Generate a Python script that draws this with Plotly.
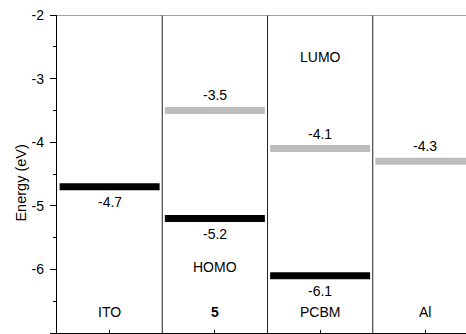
import plotly.graph_objects as go

# Energy levels (eV) for each layer of the device
materials = ["ITO", "5", "PCBM", "Al"]
lumo = [None, -3.5, -4.1, -4.3]   # upper levels / work function (grey)
homo = [-4.7, -5.2, -6.1, None]   # lower levels / work function (black)
y_ticks = [-2, -3, -4, -5, -6, -7]

GREY = "#bdbdbd"
BLACK = "#000000"
FONT = "Liberation Sans, Arial, sans-serif"
GAP = 0.025
TXT = dict(size=14, color="black", family=FONT)

fig = go.Figure()
annotations = []

for i, name in enumerate(materials):
    cx = i + 0.5
    if lumo[i] is not None:
        fig.add_trace(go.Scatter(x=[i + GAP, i + 1 - GAP], y=[lumo[i], lumo[i]],
                                 mode="lines", line=dict(color=GREY, width=7),
                                 hoverinfo="skip", showlegend=False))
        annotations.append(dict(x=cx, y=lumo[i], text=f"{lumo[i]:.1f}", yshift=15,
                                showarrow=False, font=TXT))
    if homo[i] is not None:
        fig.add_trace(go.Scatter(x=[i + GAP, i + 1 - GAP], y=[homo[i], homo[i]],
                                 mode="lines", line=dict(color=BLACK, width=7),
                                 hoverinfo="skip", showlegend=False))
        annotations.append(dict(x=cx, y=homo[i], text=f"{homo[i]:.1f}", yshift=-15,
                                showarrow=False, font=TXT))
    label = f"<b>{name}</b>" if name == "5" else name
    annotations.append(dict(x=cx, y=-6.665, text=label, showarrow=False, font=TXT))

annotations.append(dict(x=2.5, y=-2.665, text="LUMO", showarrow=False, font=TXT))
annotations.append(dict(x=1.5, y=-5.96, text="HOMO", showarrow=False, font=TXT))
# axis title
annotations.append(dict(xref="paper", yref="paper", x=-0.088, y=0.47,
                        xanchor="center", yanchor="middle",
                        text="Energy (eV)", textangle=-90, showarrow=False,
                        font=dict(size=14.5, color="black", family=FONT)))

# column dividers
shapes = [dict(type="line", xref="x", yref="y", x0=k, x1=k, y0=-7, y1=-2,
               line=dict(color="#222222", width=1)) for k in (1, 2, 3)]
# top frame line
shapes.append(dict(type="line", xref="x", yref="y", x0=-0.05, x1=3.9, y0=-2, y1=-2,
                   line=dict(color="#808080", width=1.3)))

fig.update_layout(
    width=466, height=334,
    margin=dict(l=57, r=0, t=15, b=1),
    paper_bgcolor="white", plot_bgcolor="white",
    annotations=annotations, shapes=shapes,
    showlegend=False,
    xaxis=dict(range=[0, 3.886], showgrid=False, zeroline=False,
               showline=True, linecolor="black", linewidth=1,
               tickvals=[0.5, 1.5, 2.5, 3.5], ticks="inside", ticklen=3,
               tickcolor="black", showticklabels=False),
    yaxis=dict(range=[-7, -2], showgrid=False, zeroline=False,
               showline=True, linecolor="black", linewidth=1.3,
               tickvals=y_ticks, ticktext=[str(v) for v in y_ticks],
               ticks="outside", ticklen=6, tickcolor="black", ticklabelstandoff=3,
               minor=dict(dtick=0.5, ticks="outside", ticklen=3, tickcolor="black"),
               tickfont=dict(size=14, color="black", family=FONT)),
)

fig.write_html("out.html")
